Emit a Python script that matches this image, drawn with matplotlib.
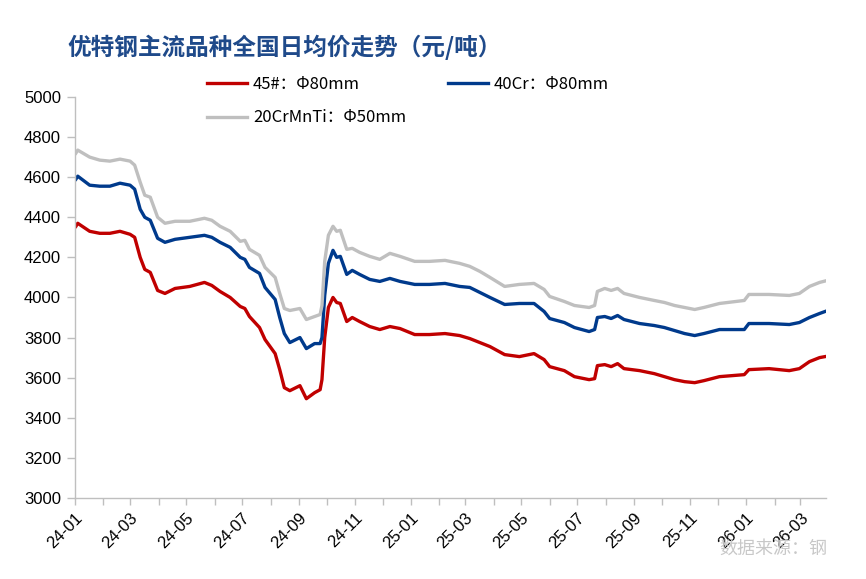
import pandas as pd
import matplotlib
matplotlib.use("Agg")
import matplotlib.pyplot as plt
import matplotlib.dates as mdates

# Daily average price, yuan/ton
dates = [
    "2024-01-02", "2024-01-04", "2024-01-17", "2024-01-28", "2024-02-08", "2024-02-19",
    "2024-03-01", "2024-03-06", "2024-03-12", "2024-03-17", "2024-03-23", "2024-03-31",
    "2024-04-08", "2024-04-19", "2024-05-05", "2024-05-21", "2024-05-29", "2024-06-07",
    "2024-06-18", "2024-06-29", "2024-07-04", "2024-07-09", "2024-07-20", "2024-07-26",
    "2024-08-06", "2024-08-11", "2024-08-16", "2024-08-22", "2024-09-02", "2024-09-09",
    "2024-09-18", "2024-09-24", "2024-09-26", "2024-09-29", "2024-10-03", "2024-10-08",
    "2024-10-12", "2024-10-16", "2024-10-23", "2024-10-29", "2024-11-06", "2024-11-17",
    "2024-11-28", "2024-12-09", "2024-12-20", "2025-01-05", "2025-01-21", "2025-02-07",
    "2025-02-23", "2025-03-06", "2025-03-17", "2025-03-28", "2025-04-13", "2025-04-29",
    "2025-05-15", "2025-05-26", "2025-06-01", "2025-06-17", "2025-06-28", "2025-07-14",
    "2025-07-20", "2025-07-23", "2025-07-31", "2025-08-07", "2025-08-14", "2025-08-21",
    "2025-09-07", "2025-09-23", "2025-10-04", "2025-10-15", "2025-10-26", "2025-11-06",
    "2025-11-16", "2025-12-03", "2025-12-30", "2026-01-04", "2026-01-26", "2026-02-17",
    "2026-02-28", "2026-03-11", "2026-03-22", "2026-03-28",
]
steel_45 = [
    4355, 4370, 4330, 4320, 4320, 4330, 4315, 4300, 4200, 4140, 4125, 4035,
    4020, 4045, 4055, 4075, 4060, 4030, 4000, 3955, 3945, 3905, 3850, 3790,
    3720, 3640, 3550, 3535, 3560, 3495, 3525, 3540, 3590, 3800, 3950, 4000,
    3975, 3970, 3880, 3900, 3880, 3855, 3840, 3855, 3845, 3815, 3815, 3820,
    3810, 3795, 3775, 3755, 3715, 3705, 3720, 3690, 3655, 3635, 3605, 3590,
    3595, 3660, 3665, 3655, 3670, 3645, 3635, 3620, 3605, 3590, 3580, 3575,
    3585, 3605, 3615, 3640, 3645, 3635, 3645, 3680, 3700, 3705,
]
steel_40cr = [
    4590, 4605, 4560, 4555, 4555, 4570, 4560, 4540, 4440, 4400, 4385, 4295,
    4275, 4290, 4300, 4310, 4300, 4275, 4250, 4200, 4190, 4150, 4120, 4050,
    3990, 3900, 3820, 3775, 3800, 3745, 3770, 3770, 3800, 4010, 4170, 4235,
    4200, 4205, 4115, 4135, 4115, 4090, 4080, 4095, 4080, 4065, 4065, 4070,
    4055, 4050, 4025, 4000, 3965, 3970, 3970, 3930, 3895, 3875, 3850, 3830,
    3840, 3900, 3905, 3895, 3910, 3890, 3870, 3860, 3850, 3835, 3820, 3810,
    3820, 3840, 3840, 3870, 3870, 3865, 3875, 3900, 3920, 3930,
]
steel_20crmnti = [
    4720, 4735, 4700, 4685, 4680, 4690, 4680, 4660, 4575, 4510, 4500, 4400,
    4370, 4380, 4380, 4395, 4385, 4355, 4330, 4280, 4285, 4240, 4210, 4150,
    4100, 4020, 3945, 3935, 3945, 3890, 3905, 3915, 3960, 4180, 4310, 4355,
    4330, 4335, 4240, 4245, 4225, 4205, 4190, 4220, 4205, 4180, 4180, 4185,
    4170, 4155, 4130, 4100, 4055, 4065, 4070, 4040, 4005, 3980, 3960, 3950,
    3960, 4030, 4045, 4035, 4045, 4020, 4000, 3985, 3975, 3960, 3950, 3940,
    3950, 3970, 3985, 4015, 4015, 4010, 4020, 4055, 4075, 4082,
]
labels = ["45#：Φ80mm", "40Cr：Φ80mm", "20CrMnTi：Φ50mm"]
colors = ["#C00000", "#003A8C", "#BFBFBF"]

CJK = ["Noto Sans CJK SC", "DejaVu Sans"]
TICKFONT = "Liberation Sans"

df = pd.DataFrame({
    "date": pd.to_datetime(dates),
    labels[0]: steel_45,
    labels[1]: steel_40cr,
    labels[2]: steel_20crmnti,
})

fig = plt.figure(figsize=(8.66, 5.79), dpi=100)
ax = fig.add_axes([0.0866, 0.140, 0.8672, 0.6925])

handles = []
for lab, c in zip(labels, colors):
    h, = ax.plot(df["date"], df[lab], color=c, lw=2.4, solid_joinstyle="round")
    handles.append(h)

ax.set_ylim(3000, 5000)
ax.set_yticks(range(3000, 5001, 200))
ax.set_xlim(pd.Timestamp("2024-01-01"), pd.Timestamp("2026-03-29"))
ax.xaxis.set_major_locator(mdates.MonthLocator(bymonth=[1, 3, 5, 7, 9, 11]))
ax.xaxis.set_major_formatter(mdates.DateFormatter("%y-%m"))
ax.xaxis.set_minor_locator(mdates.MonthLocator())

for s in ["top", "right"]:
    ax.spines[s].set_visible(False)
for s in ["left", "bottom"]:
    ax.spines[s].set_color("#BFBFBF")
    ax.spines[s].set_linewidth(1.0)
ax.tick_params(axis="both", which="both", color="#BFBFBF", length=5, width=1.0)
ax.tick_params(axis="y", labelsize=12, pad=4, length=6)
ax.tick_params(axis="x", labelsize=12, pad=4)
for t in ax.get_yticklabels():
    t.set_fontfamily(TICKFONT)
for t in ax.get_xticklabels():
    t.set_fontfamily(TICKFONT)
    t.set_rotation(45)
    t.set_ha("right")
    t.set_rotation_mode("anchor")

fig.text(0.078, 0.919, "优特钢主流品种全国日均价走势（元/吨）", family=CJK,
         fontsize=17, fontweight="bold", color="#1F4A8A", va="center")

# legend fills column by column, so order gives rows: 45#, 40Cr / 20CrMnTi
order = [0, 2, 1]
fig.legend([handles[i] for i in order], [labels[i] for i in order],
           loc="upper left", bbox_to_anchor=(0.222, 0.895),
           ncol=2, frameon=False, prop={"family": CJK, "size": 12},
           handlelength=2.4, handletextpad=0.35, columnspacing=2.5,
           labelspacing=1.0)

fig.text(0.955, 0.052, "数据来源：钢", family=CJK, fontsize=13,
         color="#C8C8C8", ha="right", va="center")

fig.savefig("out.png", dpi=100)
